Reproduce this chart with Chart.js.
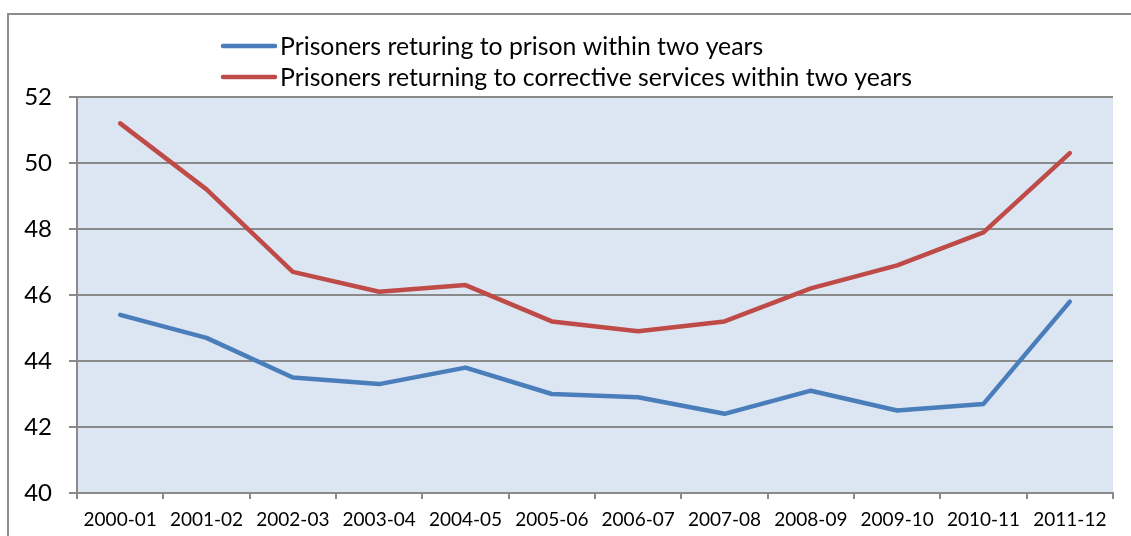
<!DOCTYPE html>
<html>
<head>
<meta charset="utf-8">
<script src="https://cdn.jsdelivr.net/npm/chart.js@4/dist/chart.umd.min.js"></script>
<style>
  html, body { margin: 0; padding: 0; background: #ffffff; }
  #wrap { width: 1131px; height: 536px; position: relative; }
</style>
</head>
<body>
<div id="wrap"><canvas id="c" width="1131" height="536"></canvas></div>
<script>
const years = ['2000-01','2001-02','2002-03','2003-04','2004-05','2005-06','2006-07','2007-08','2008-09','2009-10','2010-11','2011-12'];
const prisonReturn = [45.4, 44.7, 43.5, 43.3, 43.8, 43.0, 42.9, 42.4, 43.1, 42.5, 42.7, 45.8];
const correctiveReturn = [51.2, 49.2, 46.7, 46.1, 46.3, 45.2, 44.9, 45.2, 46.2, 46.9, 47.9, 50.3];
const seriesNames = ['Prisoners returing to prison within two years', 'Prisoners returning to corrective services within two years'];
const yMin = 40, yMax = 52, yStep = 2;

const FONT = 'Lato, "Open Sans", sans-serif';
const GRID = '#8a8a8a';

// Frame around the chart and the blue-grey plotting area
const framePlugin = {
  id: 'frame',
  beforeDraw(chart) {
    const { ctx, chartArea: a } = chart;
    ctx.save();
    ctx.fillStyle = '#dce6f2';
    ctx.fillRect(a.left, a.top, a.right - a.left, a.bottom - a.top);
    ctx.strokeStyle = '#8c8c8c';
    ctx.lineWidth = 2;
    ctx.strokeRect(8, 14, 1200, 600);
    ctx.restore();
  }
};

// Stacked legend: one row per series, line sample followed by its name
const stackedLegend = {
  id: 'stackedLegend',
  afterDraw(chart) {
    const { ctx } = chart;
    ctx.save();
    ctx.font = '24.8px ' + FONT;
    ctx.textBaseline = 'middle';
    ctx.textAlign = 'left';
    chart.data.datasets.forEach((ds, i) => {
      const y = 46 + i * 31;
      ctx.strokeStyle = ds.borderColor;
      ctx.lineWidth = 4.5;
      ctx.lineCap = 'round';
      ctx.beginPath();
      ctx.moveTo(223, y);
      ctx.lineTo(275, y);
      ctx.stroke();
      ctx.fillStyle = '#000000';
      ctx.fillText(ds.label, 280, y + 1);
    });
    ctx.restore();
  }
};

new Chart(document.getElementById('c'), {
  type: 'line',
  data: {
    labels: years,
    datasets: [
      { label: seriesNames[0], data: prisonReturn, borderColor: '#4a7ebb' },
      { label: seriesNames[1], data: correctiveReturn, borderColor: '#be4b48' }
    ]
  },
  options: {
    responsive: false,
    animation: false,
    events: [],
    layout: { padding: { left: 0, right: 18, top: 97, bottom: 0 } },
    elements: {
      line: { borderWidth: 4.5, tension: 0, borderCapStyle: 'round', borderJoinStyle: 'round' },
      point: { radius: 0 }
    },
    plugins: { legend: { display: false }, tooltip: { enabled: false } },
    scales: {
      x: {
        offset: true,
        grid: { offset: true, drawOnChartArea: false, drawTicks: true, tickLength: 6, color: GRID, lineWidth: 2 },
        border: { display: true, color: GRID, width: 2 },
        ticks: { color: '#000', font: { family: FONT, size: 19 }, padding: 9, maxRotation: 0, autoSkip: false },
        afterFit(s) { s.height = 43; }
      },
      y: {
        min: yMin, max: yMax,
        grid: { color: GRID, lineWidth: 2, tickLength: 8 },
        border: { display: true, color: GRID, width: 2 },
        ticks: { stepSize: yStep, color: '#000', font: { family: FONT, size: 24 }, padding: 17 },
        afterFit(s) { s.width = 77; }
      }
    }
  },
  plugins: [framePlugin, stackedLegend]
});
</script>
</body>
</html>
